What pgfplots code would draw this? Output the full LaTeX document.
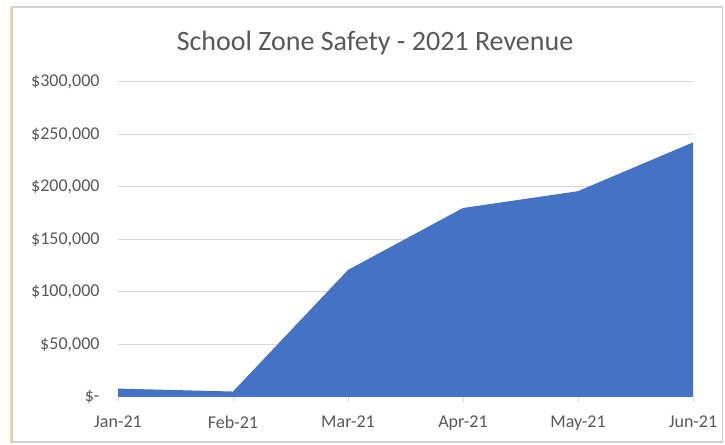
\documentclass[border=0pt]{standalone}
\usepackage{pgfplots}
\pgfplotsset{compat=1.18}
\usepackage{fontspec}
\setmainfont{Carlito}
\definecolor{areablue}{HTML}{4472C4}
\definecolor{gridgray}{HTML}{D9D9D9}
\definecolor{textgray}{HTML}{595959}
\definecolor{framegray}{HTML}{D0D0D0}
\definecolor{edgeyellow}{HTML}{F5F060}
\begin{document}
\begin{tikzpicture}[x=1bp,y=1bp]
\useasboundingbox (0,0) rectangle (725,445);
\fill[white] (0,0) rectangle (725,445);
\draw[framegray, line width=1.8bp] (11.8,2.6) rectangle (722.4,437.6);
\draw[edgeyellow, line width=0.7bp] (10.7,2) -- (10.7,438);
\node[text=textgray, font=\fontsize{28bp}{32bp}\selectfont] at (375,401.5) {School Zone Safety - 2021 Revenue};
\begin{axis}[
  at={(118bp,48bp)}, anchor=origin,
  scale only axis, width=575bp, height=315bp,
  xmin=0, xmax=5, ymin=0, ymax=300000,
  xtick={0,1,2,3,4,5},
  xticklabels={Jan-21,Feb-21,Mar-21,Apr-21,May-21,Jun-21},
  ytick={0,50000,100000,150000,200000,250000,300000},
  yticklabels={{\$-\hspace{7bp}},{\$50,000},{\$100,000},{\$150,000},{\$200,000},{\$250,000},{\$300,000}},
  ymajorgrids, grid style={draw=gridgray, line width=1bp},
  axis x line*=bottom, axis y line*=left,
  x axis line style={draw=gridgray, line width=1bp, -},
  y axis line style={draw=none},
  xtick style={draw=gridgray, line width=1bp},
  ytick style={draw=none},
  tick align=outside, major tick length=5bp,
  tick label style={font=\fontsize{18bp}{20bp}\selectfont, text=textgray},
  yticklabel style={xshift=-10bp},
  xticklabel style={yshift=-10bp},
  scaled y ticks=false,
  clip=false,
]
\addplot[fill=areablue, draw=none] coordinates {
  (0,8000) (1,5200) (2,121000) (3,180000) (4,196000) (5,242500)
} \closedcycle;
\end{axis}
\end{tikzpicture}
\end{document}
